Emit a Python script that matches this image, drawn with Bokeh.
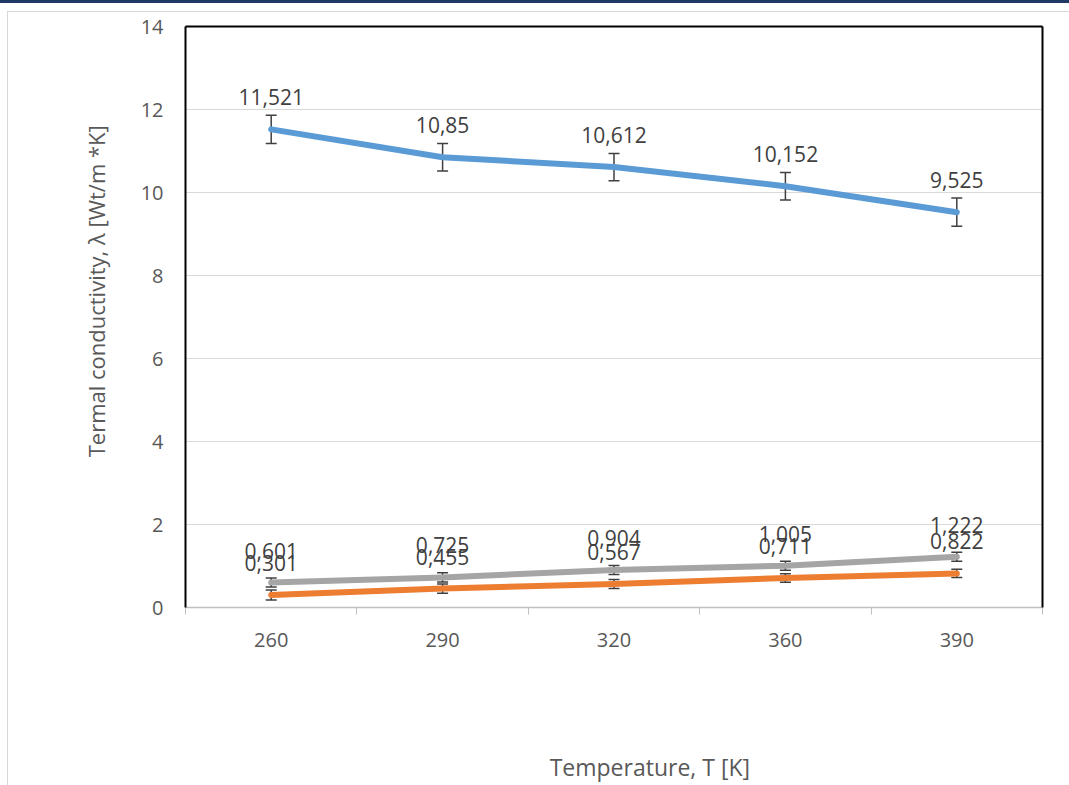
from bokeh.plotting import figure
from bokeh.models import (ColumnDataSource, FixedTicker, Range1d, Whisker, TeeHead,
                          LinearAxis)
from bokeh.core.properties import value
from bokeh.embed import file_html
from bokeh.resources import INLINE

# ---- data ----
temps = ["260", "290", "320", "360", "390"]
lam_blue = [11.521, 10.85, 10.612, 10.152, 9.525]
lam_orange = [0.301, 0.455, 0.567, 0.711, 0.822]
lam_gray = [0.601, 0.725, 0.904, 1.005, 1.222]
err_blue = [0.34, 0.33, 0.33, 0.33, 0.34]
err_orange = [0.12, 0.11, 0.11, 0.10, 0.10]
err_gray = [0.11, 0.11, 0.11, 0.11, 0.11]
y_ticks = [0, 2, 4, 6, 8, 10, 12, 14]
x_title = "Temperature, T [K]"
y_title = "Termal conductivity, λ [Wt/m *K]"

FONT = "Open Sans"
NBSP = "\u00a0"
xpos = list(range(len(temps)))

bg = ("linear-gradient(#203864,#203864) 0px 0px/100% 3px no-repeat, "
      "linear-gradient(#d9d9d9,#d9d9d9) 7px 11px/100% 1px no-repeat, "
      "linear-gradient(#d9d9d9,#d9d9d9) 7px 11px/1px 100% no-repeat, white")

p = figure(width=1069, height=785, output_backend="svg", toolbar_location=None,
           x_range=Range1d(-0.5, len(temps) - 0.5), y_range=Range1d(0, 14),
           min_border_left=185, min_border_right=27, min_border_top=26,
           min_border_bottom=178, outline_line_color=None,
           border_fill_color=None, background_fill_color="white",
           styles={"position": "absolute", "left": "0px", "top": "0px",
                   "background": bg})

# axes
xa = p.xaxis[0]
xa.ticker = FixedTicker(ticks=xpos, minor_ticks=[i - 0.5 for i in range(len(temps) + 1)])
xa.major_label_overrides = {i: t for i, t in enumerate(temps)}
xa.major_tick_line_color = None
xa.major_tick_out = 0
xa.major_tick_in = 0
xa.minor_tick_out = 7
xa.minor_tick_in = 0
xa.minor_tick_line_color = "#bfbfbf"
xa.minor_tick_line_width = 1
xa.axis_line_color = "#bfbfbf"
xa.axis_line_width = 1.5
xa.major_label_standoff = 18
xa.major_label_text_font = FONT
xa.major_label_text_font_size = "20px"
xa.major_label_text_color = "#595959"
# leading no-break spaces shift the centred title right, as in the original
xa.axis_label = NBSP * 12 + x_title
xa.axis_label_text_font = FONT
xa.axis_label_text_font_size = "23px"
xa.axis_label_text_font_style = "normal"
xa.axis_label_text_color = "#595959"
xa.axis_label_standoff = 101

ya = p.yaxis[0]
ya.ticker = FixedTicker(ticks=y_ticks)
ya.major_tick_line_color = None
ya.minor_tick_line_color = None
ya.major_tick_out = 0
ya.major_tick_in = 0
ya.axis_line_color = "black"
ya.axis_line_width = 2
ya.major_label_standoff = 22
ya.major_label_text_font = FONT
ya.major_label_text_font_size = "20px"
ya.major_label_text_color = "#595959"
# leading no-break spaces shift the rotated title upward, as in the original
ya.axis_label = NBSP * 9 + y_title
ya.axis_label_text_font = FONT
ya.axis_label_text_font_size = "22px"
ya.axis_label_text_font_style = "normal"
ya.axis_label_text_color = "#595959"
ya.axis_label_standoff = 27

for side in ("above", "right"):
    ax = LinearAxis(ticker=FixedTicker(ticks=[]), axis_line_color="black",
                    axis_line_width=2, major_tick_line_color=None,
                    minor_tick_line_color=None, major_label_text_color=None)
    p.add_layout(ax, side)

p.xgrid.grid_line_color = None
p.ygrid.ticker = FixedTicker(ticks=y_ticks)
p.ygrid.grid_line_color = "#d9d9d9"
p.ygrid.grid_line_width = 1.2

series = [
    (lam_blue, err_blue, "#5b9bd5"),
    (lam_orange, err_orange, "#ed7d31"),
    (lam_gray, err_gray, "#a5a5a5"),
]

for vals, errs, col in series:
    src = ColumnDataSource(dict(
        x=xpos, y=vals,
        lo=[v - e for v, e in zip(vals, errs)],
        hi=[v + e for v, e in zip(vals, errs)],
        lbl=[str(v).replace(".", ",") for v in vals],
    ))
    p.line("x", "y", source=src, line_width=6, line_color=col, line_cap="round",
           line_join="round")
    w = Whisker(source=src, base="x", lower="lo", upper="hi", dimension="height",
                line_color="#404040", line_width=1.5,
                upper_head=TeeHead(size=11, line_color="#404040", line_width=1.5),
                lower_head=TeeHead(size=11, line_color="#404040", line_width=1.5))
    p.add_layout(w)
    p.text("x", "y", text="lbl", source=src, text_align="center",
           text_baseline="alphabetic", y_offset=-32,
           text_font=value(FONT), text_font_size="21px", text_color="#404040")

open("out.html", "w").write(file_html(p, INLINE))
